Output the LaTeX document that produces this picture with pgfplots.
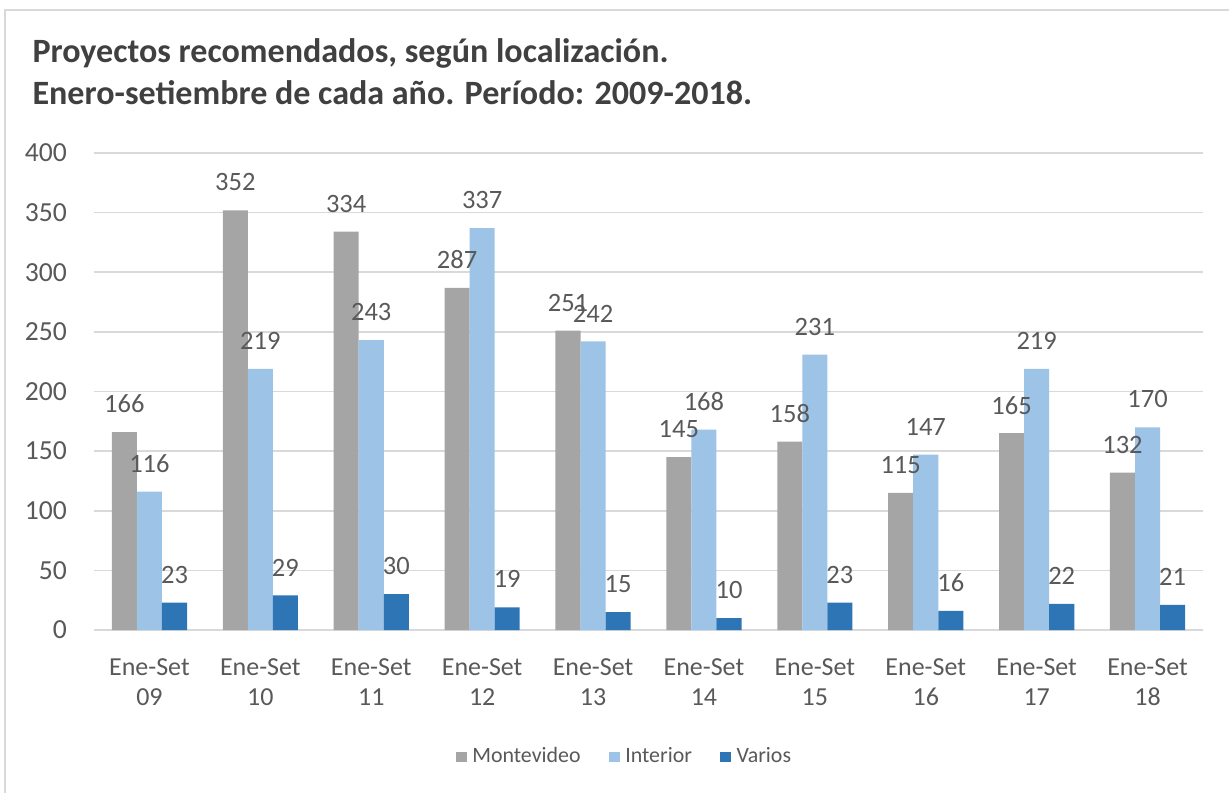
\documentclass[border=0pt]{standalone}
\usepackage{pgfplots}
\pgfplotsset{compat=1.18}
\usepackage{fontspec}
\setmainfont{Carlito}
\definecolor{mv}{HTML}{A5A5A5}
\definecolor{inte}{HTML}{9DC3E6}
\definecolor{var}{HTML}{2E75B6}
\definecolor{txt}{HTML}{595959}
\definecolor{grd}{HTML}{D9D9D9}
\definecolor{ttl}{HTML}{404040}

\begin{document}
\begin{tikzpicture}
\begin{axis}[at={(0,0)},anchor=south west,scale only axis,
  width=14.417cm,height=6.201cm,
  ybar,bar width=0.226,
  xmin=-0.5,xmax=9.5,ymin=0,ymax=400,
  ytick={0,50,...,400},
  xtick={0,...,9},
  xticklabels={Ene-Set\\09,Ene-Set\\10,Ene-Set\\11,Ene-Set\\12,Ene-Set\\13,Ene-Set\\14,Ene-Set\\15,Ene-Set\\16,Ene-Set\\17,Ene-Set\\18},
  xticklabel style={align=center,font=\fontsize{9.6}{11.1}\selectfont,text=txt,yshift=-0.25cm},
  yticklabel style={font=\fontsize{10.2}{11.5}\selectfont,text=txt,xshift=-0.23cm},
  /pgf/number format/assume math mode=true,
  major tick length=0pt,
  ymajorgrids,grid style={grd,line width=0.6pt},
  axis line style={draw=none},
  nodes near coords,
  every node near coord/.append style={anchor=center,yshift=0.364cm,font=\fontsize{9.8}{11.1}\selectfont,text=txt},
  legend columns=3,
  legend style={at={(0.48,-0.266)},anchor=center,draw=none,font=\fontsize{8.1}{9.5}\selectfont,text=txt,
    /tikz/every even column/.append style={column sep=0.3cm}},
  legend image code/.code={\fill[#1] (0cm,-0.07cm) rectangle (0.14cm,0.07cm);},
]
\addplot[fill=mv,draw=none,bar shift=-0.226] coordinates {(0,166) (1,352) (2,334) (3,287) (4,251) (5,145) (6,158) (7,115) (8,165) (9,132)};
\addlegendentry{Montevideo}
\addplot[fill=inte,draw=none,bar shift=0] coordinates {(0,116) (1,219) (2,243) (3,337) (4,242) (5,168) (6,231) (7,147) (8,219) (9,170)};
\addlegendentry{Interior}
\addplot[fill=var,draw=none,bar shift=0.226] coordinates {(0,23) (1,29) (2,30) (3,19) (4,15) (5,10) (6,23) (7,16) (8,22) (9,21)};
\addlegendentry{Varios}
\end{axis}
\begin{scope}[x=0.013cm,y=-0.013cm,shift={(-1.222cm,8.19cm)}]
\path[use as bounding box] (0,0) rectangle (1229,793);
\draw[grd,line width=0.8pt] (5,793) -- (5,10) -- (1229,10);
\node[anchor=base west,inner sep=0,text=ttl,font=\bfseries\fontsize{12.6}{14}\selectfont] at (32,62) {Proyectos recomendados, según localización.};
\node[anchor=base west,inner sep=0,text=ttl,font=\bfseries\fontsize{12.6}{14}\selectfont] at (32,104) {Enero-setiembre de cada año. Período: 2009-2018.};
\end{scope}
\end{tikzpicture}
\end{document}
